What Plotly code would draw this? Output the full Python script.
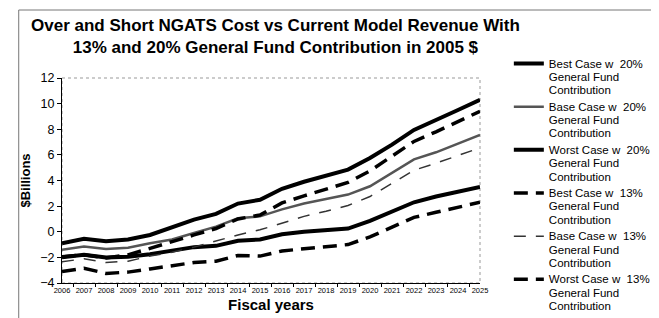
import plotly.graph_objects as go

years = [str(y) for y in range(2006, 2026)]

best_20 = [-0.9, -0.55, -0.75, -0.6, -0.25, 0.35, 0.95, 1.4, 2.2, 2.5, 3.35, 3.9, 4.4, 4.85, 5.75, 6.8, 7.95, 8.7, 9.5, 10.3]
base_20 = [-1.4, -1.15, -1.35, -1.25, -0.9, -0.6, -0.1, 0.4, 1.05, 1.2, 1.75, 2.2, 2.55, 2.9, 3.55, 4.6, 5.65, 6.2, 6.9, 7.55]
worst_20 = [-2.0, -1.8, -2.0, -1.95, -1.75, -1.45, -1.2, -1.1, -0.7, -0.6, -0.2, 0.0, 0.12, 0.25, 0.85, 1.55, 2.3, 2.75, 3.15, 3.5]
best_13 = [-1.95, -1.8, -2.05, -1.8, -1.3, -0.75, -0.25, 0.25, 1.0, 1.3, 2.25, 2.8, 3.3, 3.85, 4.75, 5.9, 7.05, 7.8, 8.6, 9.4]
base_13 = [-2.35, -2.1, -2.4, -2.3, -1.9, -1.6, -1.2, -0.7, -0.25, 0.15, 0.65, 1.2, 1.6, 2.05, 2.75, 3.75, 4.8, 5.35, 5.95, 6.55]
worst_13 = [-3.1, -2.85, -3.25, -3.15, -2.9, -2.65, -2.4, -2.3, -1.85, -1.9, -1.5, -1.33, -1.17, -1.0, -0.4, 0.35, 1.12, 1.52, 1.9, 2.3]

legend_labels = [
    "Best Case w\u00a0 20%",
    "Base Case w\u00a0 20%",
    "Worst Case w\u00a0 20%",
    "Best Case w\u00a0 13%",
    "Base Case w\u00a0 13%",
    "Worst Case w\u00a0 13%",
]
label_suffix = ["General Fund", "Contribution"]
series = [best_20, base_20, worst_20, best_13, base_13, worst_13]
styles = [
    dict(color="black", width=4, dash="solid"),
    dict(color="#555555", width=2.5, dash="solid"),
    dict(color="black", width=4, dash="solid"),
    dict(color="black", width=3.5, dash="14px,8px"),
    dict(color="#333333", width=1.5, dash="12px,10px"),
    dict(color="black", width=3.5, dash="14px,8px"),
]

fig = go.Figure()
for lab, s, st in zip(legend_labels, series, styles):
    name = "<br>".join(
        "<span style='font-size:11.5px'>%s</span>" % t for t in [lab] + label_suffix
    )
    fig.add_trace(go.Scatter(x=years, y=s, name=name, mode="lines", line=st))

fig.update_layout(
    width=659, height=318,
    margin=dict(l=54, r=180, t=70, b=43),
    paper_bgcolor="white", plot_bgcolor="white",
    font=dict(family="Arial, Liberation Sans, sans-serif", color="black", size=12),
    showlegend=True,
    legend=dict(
        x=1.069, xanchor="left", y=1.135, yanchor="top",
        font=dict(size=10.3, color="black"), maxheight=310,
        valign="top", tracegroupgap=0, bgcolor="rgba(0,0,0,0)",
    ),
    xaxis=dict(
        type="category", showline=True, linecolor="black", linewidth=1,
        ticks="outside", ticklen=3, tickson="boundaries", tickcolor="black",
        tickfont=dict(size=7.5), tickangle=0, showgrid=False, zeroline=False,
        title=dict(text="<b>Fiscal years</b>", font=dict(size=15), standoff=5),
    ),
    yaxis=dict(
        range=[-4, 12], dtick=2, showline=True, linecolor="black", linewidth=1,
        ticks="outside", ticklen=4, tickcolor="black", showgrid=False, zeroline=False,
        tickfont=dict(size=12.5),
        title=dict(text="<b>$Billions</b>", font=dict(size=13), standoff=6),
    ),
    annotations=[
        dict(
            text="<b>Over and Short NGATS Cost vs Current Model Revenue With<br>13% and 20% General Fund Contribution in 2005 $</b>",
            xref="paper", yref="paper", x=(271 - 54) / 425, y=(275 - 28.5) / 205,
            xanchor="center", yanchor="middle", showarrow=False,
            font=dict(size=17, color="black"),
        )
    ],
    shapes=[
        dict(type="rect", xref="paper", yref="paper", x0=0, y0=0, x1=1, y1=1,
             line=dict(color="#999999", width=1, dash="dot"), layer="below"),
        dict(type="rect", xref="paper", yref="paper",
             x0=(10 - 54) / 425, y0=(275 - 315) / 205, x1=(658 - 54) / 425, y1=(275 - 2) / 205,
             line=dict(color="#777777", width=1), layer="below"),
    ],
)

fig.write_html("out.html")
